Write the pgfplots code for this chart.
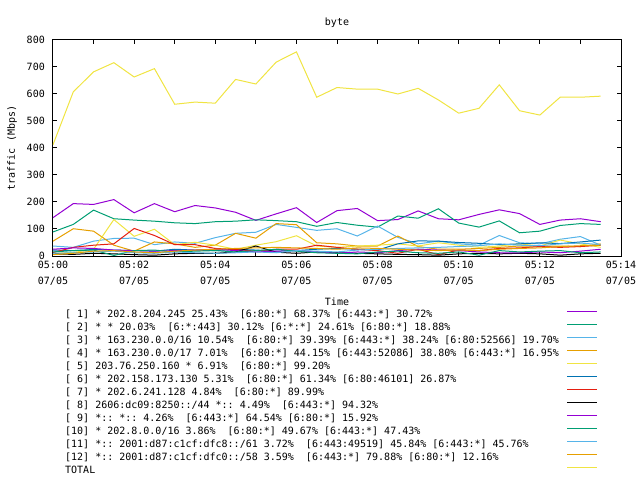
\documentclass[border=0pt]{standalone}
\usepackage{fontspec}
\setmainfont{DejaVu Sans Mono}
\usepackage{pgfplots}
\usepackage{pgfplotstable}
\pgfplotsset{compat=1.18}
\frenchspacing

% gnuplot default line colours
\definecolor{gpA}{HTML}{9400D3}
\definecolor{gpB}{HTML}{009E73}
\definecolor{gpC}{HTML}{56B4E9}
\definecolor{gpD}{HTML}{E69F00}
\definecolor{gpE}{HTML}{F0E442}
\definecolor{gpF}{HTML}{0072B2}
\definecolor{gpG}{HTML}{E51E10}

% t in minutes after 05:00, values in Mbps
\pgfplotstableread{
t    s1  s2  s3  s4  s5  s6  s7  s8  s9  s10 s11 s12 total
0    142 89  37  55  10  22  13  8   25  15  10  5   412
0.5  194 117 32  101 13  20  32  6   30  20  12  10  608
1    191 170 55  92  25  24  40  10  28  22  15  18  682
1.5  209 138 65  40  135 22  45  8   22  2   18  20  716
2    160 133 66  18  73  20  102 5   20  20  12  15  663
2.5  194 129 42  52  99  18  76  3   18  22  10  12  694
3    164 123 52  45  42  25  42  8   20  15  15  18  562
3.5  187 120 47  32  51  22  42  10  22  18  12  22  570
4    178 127 68  40  40  20  28  10  25  20  10  25  566
4.5  162 129 84  84  25  25  24  15  20  15  12  28  654
5    132 134 88  66  40  22  18  37  15  20  15  30  637
5.5  156 131 117 120 53  18  25  14  18  25  12  32  718
6    179 127 106 116 75  20  25  10  20  18  20  30  756
6.5  124 110 95  49  37  25  40  15  15  12  18  28  588
7    168 124 101 45  32  28  32  12  10  10  15  25  624
7.5  176 114 74  37  37  25  25  10  15  8   22  30  618
8    131 107 111 37  40  22  20  8   12  15  25  28  618
8.5  135 148 69  74  45  45  10  6   20  18  28  25  600
9    167 140 45  35  37  56  25  5   25  12  30  22  621
9.5  138 175 55  25  49  55  5   3   22  10  32  20  578
10   134 122 45  25  40  50  22  8   20  15  35  22  529
10.5 154 107 40  28  32  47  20  10  15  3   38  20  547
11   171 130 76  32  37  42  28  8   12  20  45  25  634
11.5 157 86  49  37  45  45  30  10  12  15  40  28  538
12   117 92  45  37  37  49  35  8   15  18  38  30  522
12.5 133 113 62  37  59  46  32  3   12  20  45  35  588
13   138 120 72  35  45  52  35  8   18  12  48  38  588
13.5 127 117 40  45  32  59  40  10  25  15  42  40  592
}\bytedata

\begin{document}
\begin{tikzpicture}[font=\fontsize{10bp}{12bp}\selectfont]
\useasboundingbox (0,0) rectangle (640bp,480bp);
\begin{axis}[
    at={(53bp,224bp)}, anchor=south west,
    scale only axis,
    width=568bp, height=216bp,
    xmin=0, xmax=14,
    ymin=0, ymax=800,
    axis line style={black, line width=1bp},
    tick style={black, line width=1bp},
    major tick length=4bp,
    xtick={0,1,...,14},
    xticklabels={{05:00\\07/05},{},{05:02\\07/05},{},{05:04\\07/05},{},{05:06\\07/05},{},{05:08\\07/05},{},{05:10\\07/05},{},{05:12\\07/05},{},{05:14\\07/05}},
    xticklabel style={align=center, anchor=north, inner sep=0pt, yshift=-5bp, font=\fontsize{10bp}{16bp}\selectfont},
    ytick={0,100,...,800},
    yticklabel style={anchor=east, inner sep=0pt, xshift=-8bp},
    /pgf/number format/assume math mode=true,
    title={byte},
    every axis title/.style={at={(rel axis cs:0.5,1)}, anchor=center, yshift=17bp},
    xlabel={Time},
    every axis x label/.style={at={(rel axis cs:0.5,0)}, anchor=center, yshift=-46bp},
    ylabel={traffic (Mbps)},
    every axis y label/.style={at={(rel axis cs:0,0.5)}, anchor=center, xshift=-41bp, rotate=90},
    legend cell align=left,
    legend plot pos=right,
    legend image code/.code={\draw[#1, line width=1bp] (0bp,3.5bp) -- (30bp,3.5bp);},
    legend style={draw=none, fill=none, at={(0.0211,-0.2407)}, anchor=north west,
        inner sep=0pt, row sep=0pt, column sep=8bp,
        nodes={inner sep=0pt, text height=9bp, text depth=4bp}},
    every axis plot/.append style={line width=1bp},
]
\addplot[gpA, no marks] table[x=t, y=s1] {\bytedata};
\addlegendentry{[ 1] * 202.8.204.245 25.43\%~~[6:80:*] 68.37\% [6:443:*] 30.72\%}
\addplot[gpB, no marks] table[x=t, y=s2] {\bytedata};
\addlegendentry{[ 2] * * 20.03\%~~[6:*:443] 30.12\% [6:*:*] 24.61\% [6:80:*] 18.88\%}
\addplot[gpC, no marks] table[x=t, y=s3] {\bytedata};
\addlegendentry{[ 3] * 163.230.0.0/16 10.54\%~~[6:80:*] 39.39\% [6:443:*] 38.24\% [6:80:52566] 19.70\%}
\addplot[gpD, no marks] table[x=t, y=s4] {\bytedata};
\addlegendentry{[ 4] * 163.230.0.0/17 7.01\%~~[6:80:*] 44.15\% [6:443:52086] 38.80\% [6:443:*] 16.95\%}
\addplot[gpE, no marks] table[x=t, y=s5] {\bytedata};
\addlegendentry{[ 5] 203.76.250.160 * 6.91\%~~[6:80:*] 99.20\%}
\addplot[gpF, no marks] table[x=t, y=s6] {\bytedata};
\addlegendentry{[ 6] * 202.158.173.130 5.31\%~~[6:80:*] 61.34\% [6:80:46101] 26.87\%}
\addplot[gpG, no marks] table[x=t, y=s7] {\bytedata};
\addlegendentry{[ 7] * 202.6.241.128 4.84\%~~[6:80:*] 89.99\%}
\addplot[black, no marks] table[x=t, y=s8] {\bytedata};
\addlegendentry{[ 8] 2606:dc09:8250::/44 *:: 4.49\%~~[6:443:*] 94.32\%}
\addplot[gpA, no marks] table[x=t, y=s9] {\bytedata};
\addlegendentry{[ 9] *:: *:: 4.26\%~~[6:443:*] 64.54\% [6:80:*] 15.92\%}
\addplot[gpB, no marks] table[x=t, y=s10] {\bytedata};
\addlegendentry{[10] * 202.8.0.0/16 3.86\%~~[6:80:*] 49.67\% [6:443:*] 47.43\%}
\addplot[gpC, no marks] table[x=t, y=s11] {\bytedata};
\addlegendentry{[11] *:: 2001:d87:c1cf:dfc8::/61 3.72\%~~[6:443:49519] 45.84\% [6:443:*] 45.76\%}
\addplot[gpD, no marks] table[x=t, y=s12] {\bytedata};
\addlegendentry{[12] *:: 2001:d87:c1cf:dfc0::/58 3.59\%~~[6:443:*] 79.88\% [6:80:*] 12.16\%}
\addplot[gpE, no marks] table[x=t, y=total] {\bytedata};
\addlegendentry{TOTAL}
\end{axis}
\end{tikzpicture}
\end{document}
